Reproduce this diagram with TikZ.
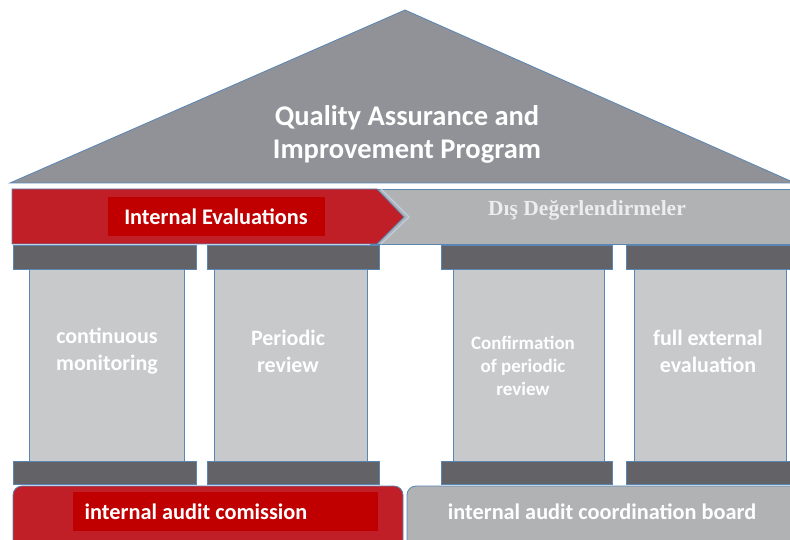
\documentclass[tikz,border=0pt]{standalone}
\usepackage{fontspec}
\setmainfont{Carlito}
\newfontfamily\dsfont{Liberation Serif}
\definecolor{roofgray}{HTML}{909297}
\definecolor{bandgray}{HTML}{B1B2B4}
\definecolor{capgray}{HTML}{636266}
\definecolor{shaftgray}{HTML}{C8C9CB}
\definecolor{basered}{HTML}{C01F28}
\definecolor{labelred}{HTML}{C00000}
\definecolor{edgeblue}{HTML}{5A86B4}
\begin{document}
\begin{tikzpicture}[x=1pt,y=-1pt,
  edge/.style={draw=edgeblue, line width=0.8pt},
  title/.style={text=white, font=\bfseries\fontsize{28.5}{33}\selectfont, align=center},
  colname/.style={text=white, font=\bfseries\fontsize{22}{27}\selectfont, align=center},
  bandname/.style={text=white, font=\bfseries\fontsize{22.3}{24}\selectfont, inner sep=0pt}]
\useasboundingbox (0,0) rectangle (790,540);
% roof
\draw [edge, fill=roofgray] (10,183) -- (405,10) -- (795,183) -- cycle;
\node [title] (qaip) at (407,134) {Quality Assurance and\\Improvement Program};
% band with evaluations
\draw [edge, fill=bandgray] (370,189) rectangle (795,244);
\draw [edge, fill=basered] (12,189) -- (377,189) -- (404,217) -- (377,244) -- (12,244) -- cycle;
\draw [draw=edgeblue!40, line width=1.2pt] (381,189) -- (409,217) -- (381,244);
\node [bandname, fill=labelred, minimum width=217pt, minimum height=39pt] (ie) at (216,217) {Internal Evaluations};
\node [text=white!93!black, font=\dsfont\bfseries\fontsize{21.5}{24}\selectfont] (dd) at (587,210) {Dış Değerlendirmeler};
% columns
\foreach \a/\b in {29/184, 214/367, 453/604, 634/786}
  \draw [edge, fill=shaftgray] (\a,262) rectangle (\b,466);
\foreach \a/\b in {13/196, 207/379, 441/612, 626/795} {
  \draw [edge, fill=capgray] (\a,245) rectangle (\b,269);
  \draw [edge, fill=capgray] (\a,461) rectangle (\b,484);
}
\node [colname] (cm) at (107,351) {continuous\\monitoring};
\node [colname] (pr) at (288,351) {Periodic\\review};
\node [colname, font=\bfseries\fontsize{19}{23}\selectfont] (cpr) at (523,366) {Confirmation\\of periodic\\review};
\node [colname] (fee) at (708,351) {full external\\evaluation};
% base
\draw [edge, fill=basered, rounded corners=9pt] (13,486) rectangle (403,550);
\draw [edge, fill=bandgray, rounded corners=9pt] (407,486) rectangle (800,550);
\node [fill=labelred, minimum width=305pt, minimum height=39pt, inner sep=0pt] (iacbox) at (225,511) {};
\node [bandname] (iac) at (196,512) {internal audit comission};
\node [bandname] (iacb) at (602,512) {internal audit coordination board};
\end{tikzpicture}
\end{document}
